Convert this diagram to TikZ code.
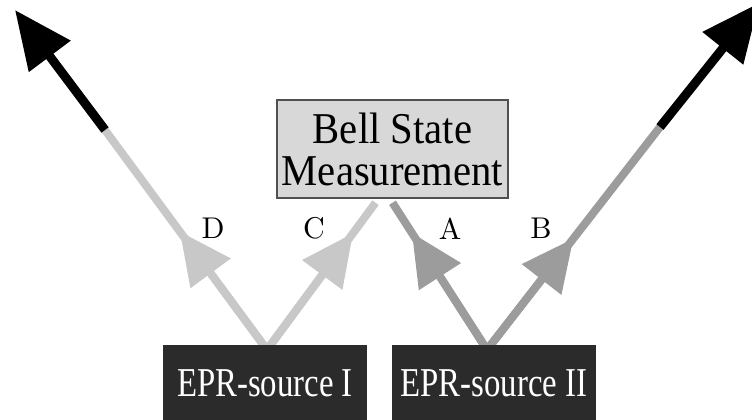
\documentclass[tikz,border=0pt]{standalone}
\usepackage{fontspec}
\newfontfamily\bellfont[FakeStretch=0.925]{Liberation Serif}
\newfontfamily\eprfont[FakeStretch=0.80]{Liberation Serif}
\newfontfamily\labfont{lmroman10-regular.otf}
\usetikzlibrary{arrows.meta,calc,backgrounds}
\definecolor{lightray}{HTML}{C8C8C8}
\definecolor{midray}{HTML}{9C9C9C}
\definecolor{boxgray}{HTML}{D8D8D8}
\definecolor{boxedge}{HTML}{505050}
\definecolor{srcfill}{HTML}{2B2B2B}
\begin{document}
\begin{tikzpicture}[x=1pt,y=-1pt,
  bellbox/.style={draw=boxedge, line width=1.5pt, fill=boxgray, minimum width=231pt,
    minimum height=98pt, inner sep=0pt, align=center, font=\fontsize{44}{42}\bellfont},
  srcbox/.style={fill=srcfill, minimum width=204pt, minimum height=77pt, inner sep=0pt,
    text=white, font=\fontsize{41}{41}\eprfont},
  lab/.style={inner sep=0pt, font=\fontsize{30}{30}\labfont},
  ray/.style={line width=8pt},
  blackray/.style={line width=9pt, black, -{Triangle[length=58pt,width=50pt]}},
  midtip/.style={line width=8pt, -{Triangle[length=52pt,width=48pt]}}
]
\useasboundingbox (0,0) rectangle (752,420);
\clip (0,0) rectangle (752,420);

\node[bellbox] (bell) at (392.5,149) {Bell State\\Measurement};
\node[srcbox] (s1) at (265,383.5) {EPR-source I};
\node[srcbox] (s2) at (494,383.5) {EPR-source II};

\coordinate (o1) at ($(s1.north)+(2,5)$);
\coordinate (o2) at ($(s2.north)+(-7,5)$);
\coordinate (dturn) at (105,130);
\coordinate (dend) at (15,10);
\coordinate (bturn) at (660,127);
\coordinate (bend) at (759,3);
\coordinate (cend) at ($(bell.south)+(-17,4)$);
\coordinate (aend) at ($(bell.south)+(0,4)$);

\begin{scope}[on background layer]
  % D
  \draw[ray, lightray] (o1) -- (dturn);
  \draw[midtip, lightray] (o1) -- ($(o1)!147pt!(dturn)$);
  \draw[blackray] (dturn) -- (dend);
  % C
  \draw[ray, lightray] (o1) -- (cend);
  \draw[midtip, lightray] (o1) -- ($(o1)!145pt!(cend)$);
  % A
  \draw[ray, midray] (o2) -- (aend);
  \draw[midtip, midray] (o2) -- ($(o2)!139pt!(aend)$);
  % B
  \draw[ray, midray] (o2) -- (bturn);
  \draw[midtip, midray] (o2) -- ($(o2)!141pt!(bturn)$);
  \draw[blackray] (bturn) -- (bend);
\end{scope}

\node[lab] (lD) at (213,228.5) {D};
\node[lab] (lC) at (314,228.5) {C};
\node[lab] (lA) at (450,228.5) {A};
\node[lab] (lB) at (541,228.5) {B};
\end{tikzpicture}
\end{document}
